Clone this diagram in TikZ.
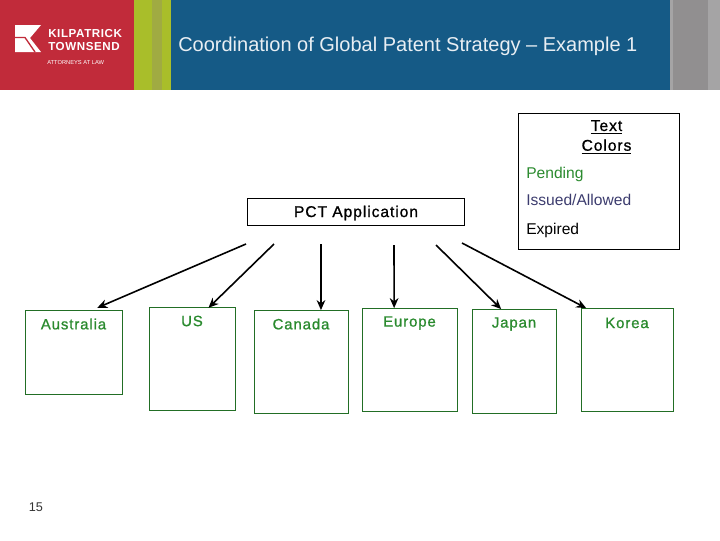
\documentclass[tikz,border=0pt]{standalone}
\usepackage{fontspec}
\setmainfont{Liberation Sans}
\newfontfamily\boxfont[LetterSpace=6,FakeBold=1]{Liberation Sans}
\newfontfamily\logofont[LetterSpace=5]{Liberation Sans Bold}
\usetikzlibrary{positioning,arrows.meta}
\definecolor{hdrred}{HTML}{C12B3A}
\definecolor{hdrgreen}{HTML}{A9BE2A}
\definecolor{hdrolive}{HTML}{A0AB42}
\definecolor{hdrblue}{HTML}{155A86}
\definecolor{hdrgrey}{HTML}{918F90}
\definecolor{hdrlight}{HTML}{A5A4A5}
\definecolor{pendgreen}{HTML}{2A8A2E}
\definecolor{issued}{HTML}{3C3C6E}
\begin{document}
\begin{tikzpicture}
[x=.75pt,y=-.75pt,
band/.style={fill=#1,draw=none},
office/.style={rectangle,draw=pendgreen!80!black,line width=.6pt,inner sep=0pt},
officetext/.style={font=\boxfont\fontsize{11.2}{13}\selectfont,text=pendgreen,inner sep=0pt},
headbox/.style={rectangle,draw=black,line width=.6pt,inner sep=0pt},
headtext/.style={inner sep=0pt,font=\boxfont\fontsize{11.7}{14}\selectfont},
legend/.style={font=\fontsize{11.7}{14}\selectfont,inner sep=0pt,anchor=west},
flow/.style={-{Stealth[length=7.5pt,width=6.5pt]},line width=1.2pt}]

\useasboundingbox (0,0) rectangle (720,540);

% header bands
\fill [band=hdrred] (0,0) rectangle (134,90);
\fill [band=hdrgreen] (134,0) rectangle (171,90);
\fill [band=hdrolive] (152,0) rectangle (162,90);
\fill [band=hdrblue] (171,0) rectangle (670,90);
\fill [band=hdrlight] (670,0) rectangle (720,90);
\fill [band=hdrgrey] (673,0) rectangle (708,90);

% logo
\fill [white] (15,25) -- (41,25) -- (30,38) -- (41,52) -- (15,52) -- cycle;
\draw [hdrred,line width=1pt] (15,37.5) -- (25,37.5) -- (35,52);
\node [white,inner sep=0pt,anchor=west,font=\logofont\fontsize{8.7}{10}\selectfont] (kil) at (48,34) {KILPATRICK};
\node [white,inner sep=0pt,anchor=west,font=\logofont\fontsize{8.7}{10}\selectfont] (tow) at (48,47) {TOWNSEND};
\node [white,inner sep=0pt,anchor=west,font=\fontsize{4.3}{5}\selectfont] (att) at (47,63) {ATTORNEYS AT LAW};

\node [inner sep=0pt,anchor=west,text=white!90!hdrblue,font=\fontsize{15}{17}\selectfont] (title) at (178,46)
{Coordination of Global Patent Strategy -- Example 1};

% legend
\node [headbox,minimum width=120.75pt,minimum height=102pt] (key) at (599,181.5) {};
\node [headtext] (keytop) at (606.5,127) {\underline{Text}};
\node [headtext] (keybot) at (606.5,146.5) {\underline{Colors}};
\node [legend,text=pendgreen] (pend) at (526,174) {Pending};
\node [legend,text=issued] (iss) at (526,200) {Issued/Allowed};
\node [legend] (exp) at (526,230) {Expired};

% application
\node [headbox,minimum width=162.75pt,minimum height=20.25pt] (pct) at (356,212) {};
\node [headtext] (pcttext) at (356,213) {PCT Application};

% offices
\node [office,minimum width=72.75pt,minimum height=62.5pt] (au) at (74,352.5) {};
\node [office,minimum width=64.5pt,minimum height=77.25pt] (us) at (192.5,359) {};
\node [office,minimum width=70.5pt,minimum height=77.25pt] (ca) at (301.5,362) {};
\node [office,minimum width=71.25pt,minimum height=77.25pt] (eu) at (410,360) {};
\node [office,minimum width=63pt,minimum height=78pt] (jp) at (514.5,361.5) {};
\node [office,minimum width=69pt,minimum height=77.25pt] (kr) at (627.5,360) {};

\node [officetext] (autext) at (73.5,324) {Australia};
\node [officetext] (ustext) at (192,321) {US};
\node [officetext] (catext) at (301,324) {Canada};
\node [officetext] (eutext) at (409.5,323) {Europe};
\node [officetext] (jptext) at (514,324) {Japan};
\node [officetext] (krtext) at (627,323) {Korea};

% arrows from below the application
\coordinate (fromau) at (246,244);
\coordinate (fromus) at (274,244);
\coordinate (fromca) at (321,244);
\coordinate (fromeu) at (394,245);
\coordinate (fromjp) at (436,245);
\coordinate (fromkr) at (462,243);
\draw [flow] (fromau) -- ([xshift=17.5pt,yshift=2pt]au.north);
\draw [flow] (fromus) -- ([xshift=12pt,yshift=-.5pt]us.north);
\draw [flow] (fromca) -- ([xshift=14.6pt]ca.north);
\draw [flow] (fromeu) -- ([xshift=-11.9pt]eu.north);
\draw [flow] (fromjp) -- ([xshift=-10pt]jp.north);
\draw [flow] (fromkr) -- ([xshift=-31pt]kr.north);

\node [inner sep=0pt,font=\fontsize{9.5}{11}\selectfont,text=black!80] (pagenum) at (36,507) {15};
\end{tikzpicture}
\end{document}
